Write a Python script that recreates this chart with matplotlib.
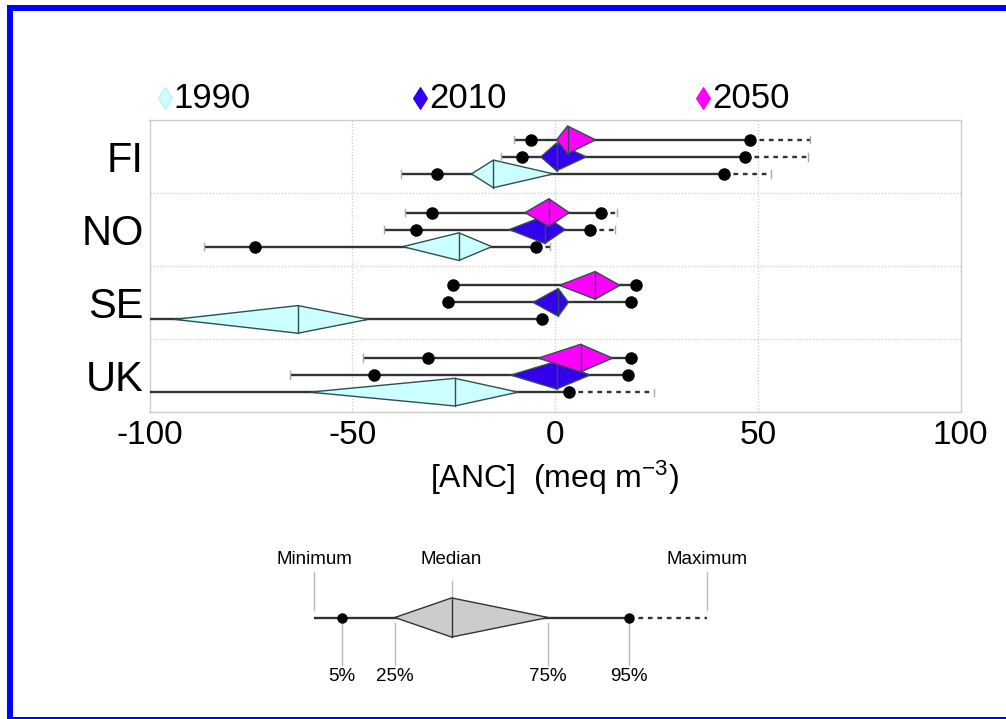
import numpy as np
import matplotlib
matplotlib.use("Agg")
import matplotlib.pyplot as plt
from matplotlib.patches import Rectangle

plt.rcParams['font.family'] = ['Liberation Sans', 'DejaVu Sans']
plt.rcParams['mathtext.default'] = 'regular'

countries = ["FI", "NO", "SE", "UK"]
years = ["1990", "2010", "2050"]
year_colors = ["#ccffff", "#3300ee", "#ff00ff"]

# per country: [min, 5%, 25%, median, 75%, 95%, max]
stats_1990 = [[-38.0, -29.0, -20.6, -15.2, -0.4, 41.6, 53.3],
              [-86.6, -73.9, -37.5, -23.7, -15.6, -4.8, -1.2],
              [-130.0, -115.0, -93.8, -63.4, -46.1, -3.3, -3.3],
              [-140.0, -110.0, -60.5, -24.7, -9.1, 3.5, 24.3]]
stats_2010 = [[-13.4, -8.2, -3.5, 0.4, 7.7, 46.9, 62.3],
              [-42.1, -34.3, -11.3, -2.5, 2.5, 8.6, 14.8],
              [-26.3, -26.3, -5.4, 0.8, 3.3, 18.7, 18.7],
              [-65.4, -44.6, -10.9, 0.4, 8.6, 17.9, 17.9]]
stats_2050 = [[-10.0, -5.9, 0.4, 3.1, 10.0, 48.0, 62.8],
              [-37.0, -30.4, -7.4, -1.5, 3.5, 11.4, 15.3],
              [-25.1, -25.1, 1.1, 9.9, 16.0, 20.0, 20.0],
              [-47.3, -31.2, -4.1, 6.3, 14.2, 18.7, 18.7]]

# example row for the key
key_stats = [-59.4, -52.6, -39.5, -25.5, -1.7, 18.2, 37.5]
key_low = ["5%", "25%", "75%", "95%"]
key_high = ["Minimum", "Median", "Maximum"]

LINE = "#333333"


def draw_row(ax, y, s, color, half, tick, ms, z, edge="#2f4f4f"):
    mn, p5, p25, med, p75, p95, mx = s
    ax.plot([mn, p95], [y, y], color=LINE, lw=1.7, solid_capstyle='butt', zorder=z)
    if mx > p95:
        ax.plot([p95, mx], [y, y], color=LINE, lw=1.7, ls=(0, (2, 2)), zorder=z)
        ax.plot([mx, mx], [y - tick, y + tick], color="#aaaaaa", lw=1, zorder=z)
    if mn < p5:
        ax.plot([mn, mn], [y - tick, y + tick], color="#aaaaaa", lw=1, zorder=z)
    ax.fill([p25, med, p75, med], [y, y - half, y, y + half],
            facecolor=color, edgecolor=edge, lw=1, zorder=z + 0.5)
    ax.plot([med, med], [y - half, y + half], color=edge, lw=1, zorder=z + 0.6)
    ax.plot([p5, p95], [y, y], 'o', color='k', ms=ms, zorder=50)


fig = plt.figure(figsize=(10.06, 7.19), dpi=100)
W, H = 1006, 719

ax = fig.add_axes([149.5 / W, 1 - 411.5 / H, 811 / W, 291 / H])
ax.set_xlim(-100, 100)
ax.set_ylim(4, 0)

all_stats = [stats_1990, stats_2010, stats_2050]
offsets = [0.234, 0.0, -0.234]
z = 2
for i, c in enumerate(countries):
    center = i + 0.5
    for k in range(3):
        draw_row(ax, center + offsets[k], all_stats[k][i], year_colors[k],
                 half=0.19, tick=0.05, ms=8, z=z)
        z += 1

ax.set_xticks([-100, -50, 0, 50, 100])
ax.set_xticklabels(["-100", "-50", "0", "50", "100"], fontsize=24)
ax.set_yticks([i + 0.5 for i in range(4)])
ax.set_yticklabels(countries, fontsize=30)
ax.tick_params(length=0, pad=6)
ax.tick_params(axis='y', pad=4)
for b in [1, 2, 3]:
    ax.axhline(b, color="#cccccc", lw=0.9, ls=(0, (1, 1.5)), zorder=0)
for v in [-50, 0, 50]:
    ax.axvline(v, color="#cccccc", lw=0.9, ls=(0, (1, 1.5)), zorder=0)
for sp in ax.spines.values():
    sp.set_color("#cccccc")
    sp.set_linewidth(1)
ax.set_xlabel(r"[ANC]  (meq m$^{-3}$)", fontsize=23, labelpad=6)

# legend
leg_x = [0.019, 0.334, 0.683]
for k, yr in enumerate(years):
    edge = "#bbeeee" if k == 0 else year_colors[k]
    ax.plot([leg_x[k]], [1.077], marker='d', ms=11.5, color=year_colors[k],
            mec=edge, mew=0.8, transform=ax.transAxes, clip_on=False)
    ax.text(leg_x[k] + 0.011, 1.077, yr, transform=ax.transAxes, fontsize=25,
            va='center', ha='left')

# key diagram
kx = fig.add_axes([149.5 / W, 1 - 690 / H, 811 / W, 145 / H])
kx.set_xlim(-100, 100)
kx.set_ylim(-1, 1)
kx.axis('off')
draw_row(kx, 0, key_stats, "#cccccc", half=0.27, tick=0.0, ms=6.5, z=2, edge="#333333")
guide = "#bbbbbb"
mn, p5, p25, med, p75, p95, mx = key_stats
for v, lab in zip([mn, med, mx], key_high):
    top = 0.497 if lab == "Median" else 0.634
    bot = 0.27 if lab == "Median" else 0.106
    kx.plot([v, v], [bot, top], color=guide, lw=1)
    kx.text(v, 0.8, lab, ha='center', va='center', fontsize=13.5)
for v, lab in zip([p5, p25, p75, p95], key_low):
    kx.plot([v, v], [-0.073, -0.652], color=guide, lw=1)
    kx.text(v, -0.82, lab, ha='center', va='center', fontsize=13.5)

# blue frame
fig.patches.append(Rectangle((9.8 / W, 1 - 720 / H), 1010 / W, 712 / H,
                             transform=fig.transFigure, fill=False,
                             edgecolor="#0000ff", lw=4.3))

fig.savefig("out.png", dpi=100)
